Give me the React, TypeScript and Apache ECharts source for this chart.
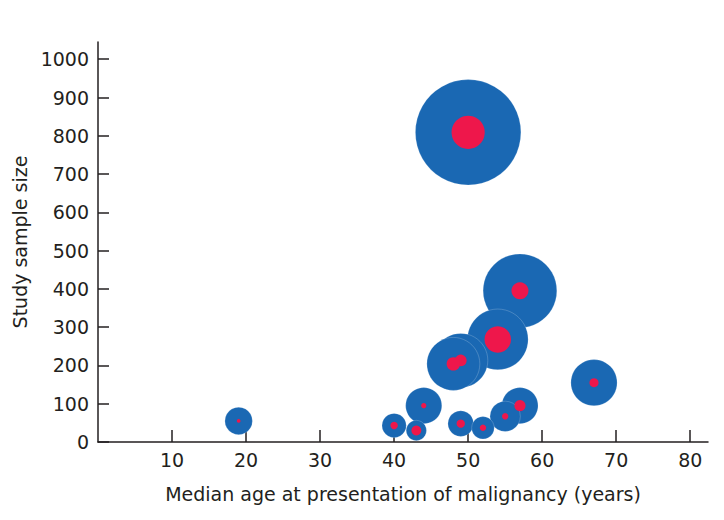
import React, { useEffect, useRef } from "react";
import * as echarts from "echarts";

// Studies, ordered by sample size (largest drawn first)
const ages = [50, 57, 54, 49, 48, 67, 44, 57, 55, 19, 49, 40, 52, 43];
const sampleSizes = [809, 395, 268, 213, 204, 155, 95, 95, 67, 55, 48, 43, 37, 30];
const malignancies = [80, 21, 51, 10, 13, 6, 2, 9, 3, 1, 5, 4, 3, 7];

const xTicks = [10, 20, 30, 40, 50, 60, 70, 80];
const yTicks = [0, 100, 200, 300, 400, 500, 600, 700, 800, 900, 1000];

const FONT = "DejaVu Sans";
const INK = "#231f20";
const BLUE = "#1a68b3";
const RED = "#ee174b";

export default function App() {
  const ref = useRef<HTMLDivElement>(null);
  useEffect(() => {
    if (!ref.current) return;
    const chart = echarts.init(ref.current, null, { renderer: "svg" });
    const points = ages.map((a, i) => [a, sampleSizes[i], malignancies[i]]);
    const k = 3.71;
    chart.setOption({
      animation: false,
      grid: { left: 98, right: 16, top: 42, bottom: 78, containLabel: false },
      xAxis: {
        type: "value",
        min: 0,
        max: 82.4,
        axisLine: { show: true, lineStyle: { color: INK, width: 1.5 } },
        axisTick: { show: true, inside: true, length: 12, customValues: xTicks, lineStyle: { color: INK, width: 1.5 } },
        axisLabel: { customValues: xTicks, formatter: (v: number) => String(v), margin: 8, fontSize: 19, fontFamily: FONT, color: INK },
        splitLine: { show: false },
        name: "Median age at presentation of malignancy (years)",
        nameLocation: "middle",
        nameGap: 42,
        nameTextStyle: { fontSize: 19, fontFamily: FONT, color: INK },
      },
      yAxis: {
        type: "value",
        min: 0,
        max: 1045,
        axisLine: { show: true, lineStyle: { color: INK, width: 1.5 } },
        axisTick: { show: true, inside: true, length: 11, customValues: yTicks, lineStyle: { color: INK, width: 1.5 } },
        axisLabel: { customValues: yTicks, formatter: (v: number) => String(v), margin: 9, fontSize: 19, fontFamily: FONT, color: INK },
        splitLine: { show: false },
        name: "Study sample size",
        nameLocation: "middle",
        nameGap: 54,
        nameRotate: 90,
        nameTextStyle: { fontSize: 19, fontFamily: FONT, color: INK },
      },
      series: [
        {
          type: "scatter",
          data: points,
          symbol: "circle",
          symbolSize: (v: number[]) => k * Math.sqrt(v[1]),
          itemStyle: { color: BLUE, opacity: 1, borderColor: "rgba(255,255,255,0.4)", borderWidth: 0.5 },
          silent: true,
          z: 2,
        },
        {
          type: "scatter",
          data: points,
          symbol: "circle",
          symbolSize: (v: number[]) => k * Math.sqrt(v[2]),
          itemStyle: { color: RED, opacity: 1 },
          silent: true,
          z: 3,
        },
      ],
    });
    return () => chart.dispose();
  }, []);
  return <div ref={ref} style={{ width: 724, height: 520, position: "absolute", left: 0, top: 0 }} />;
}
